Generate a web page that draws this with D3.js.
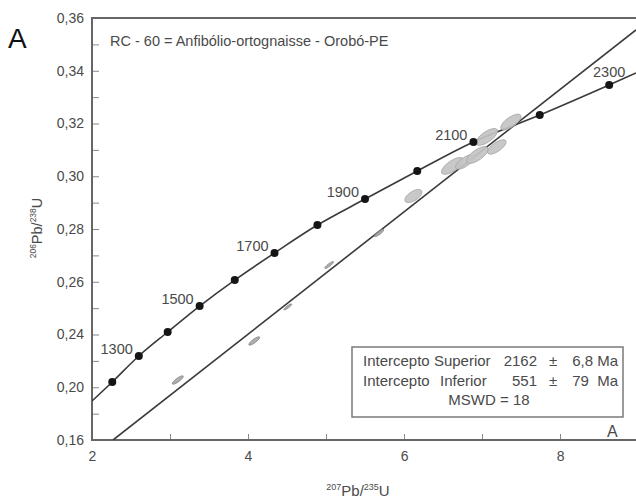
<!DOCTYPE html>
<html><head><meta charset="utf-8">
<script src="https://cdn.jsdelivr.net/npm/d3@7"></script>
<style>
html,body{margin:0;padding:0;background:#fff;}
svg{display:block;font-family:"Liberation Sans",Arial,Helvetica,sans-serif;}
</style></head><body>
<svg id="chart" width="636" height="501"></svg>
<script>
// ---- data ----
const concordiaAges = [1200,1300,1400,1500,1600,1700,1800,1900,2000,2100,2200,2300];
const concordiaX = [2.26,2.60,2.97,3.38,3.83,4.34,4.89,5.50,6.17,6.89,7.74,8.63];
const concordiaY = [0.2040,0.2237,0.2419,0.2616,0.2813,0.3018,0.3230,0.3427,0.3640,0.3860,0.4064,0.4292];
const labelledAges = [1300,1500,1700,1900,2100,2300];
// where the concordia curve leaves the frame
const concordiaEndsX = [2.00, 8.974];
const concordiaEndsY = [0.1896, 0.4383];
// discordia line
const discordiaX = [2.27, 8.974];
const discordiaY = [0.16, 0.4709];
// analyses (error ellipses)
const spotX   = [3.10, 4.08, 4.51, 5.04, 5.68, 6.12, 6.62, 6.78, 6.94, 7.19, 7.06, 7.37];
const spotY   = [0.2055,0.2351,0.2609,0.2927,0.3170,0.3450,0.3678,0.3708,0.3761,0.3822,0.3898,0.4011];
const spotSx  = [0.07, 0.07, 0.05, 0.055,0.06, 0.11, 0.14, 0.12, 0.14, 0.12, 0.14, 0.13];
const spotSy  = [0.0032,0.0032,0.0023,0.0026,0.0028,0.0050,0.0064,0.0055,0.0064,0.0055,0.0064,0.0060];
const spotRho = [0.85, 0.85, 0.9, 0.9, 0.85, 0.6, 0.7, 0.7, 0.7, 0.7, 0.7, 0.7];
// axes
const xTickValues = [2,4,6,8];
const xMinorTicks = [3,4,5,6,7,8];
const yTickValues = [0.16,0.20,0.24,0.28,0.32,0.36,0.40,0.44,0.48];
const yTickLabels = ["0,16","0,20","0,24","0,26","0,28","0,30","0,32","0,34","0,36"];
const yMinorTicks = [0.18,0.20,0.22,0.24,0.26,0.28,0.30,0.32,0.34,0.36,0.38,0.40,0.42,0.44,0.46];
// texts
const panelLetter = "A";
const sampleTitle = "RC - 60 = Anfibólio-ortognaisse - Orobó-PE";
const interceptNames = ["Intercepto Superior", "Intercepto"];
const interceptSecondWord = ["", "Inferior"];
const interceptAges = ["2162", "551"];
const interceptErrors = ["6,8 Ma", "79  Ma"];
const mswdText = "MSWD = 18";

// ---- drawing ----
const svg = d3.select("#chart");
const x = d3.scaleLinear().domain([2, 8.974]).range([92, 636]);
const y = d3.scaleLinear().domain([0.16, 0.48]).range([440, 18]);
const axisCol = "#666", textCol = "#4a4a4a";

svg.append("defs").append("clipPath").attr("id","plot")
  .append("rect").attr("x",x(2)).attr("y",y(0.48)).attr("width",x(8.974)-x(2)).attr("height",y(0.16)-y(0.48));

// y axis labels
const gy = svg.append("g").attr("transform",`translate(${x(2)},0)`)
  .call(d3.axisLeft(y).tickValues(yTickValues).tickFormat((d,i)=>yTickLabels[i]).tickSize(0).tickPadding(8));
gy.select(".domain").remove();
gy.selectAll("text").attr("font-size",14).attr("fill",textCol).attr("font-family","Liberation Sans, Arial, sans-serif");
// y minor ticks (inward)
const gym = svg.append("g").attr("transform",`translate(${x(2)},0)`)
  .call(d3.axisLeft(y).tickValues(yMinorTicks).tickSize(-7).tickFormat(""));
gym.select(".domain").remove();
gym.selectAll("line").attr("stroke","#888").attr("stroke-width",1);

// x axis labels
const gx = svg.append("g").attr("transform",`translate(0,${y(0.16)})`)
  .call(d3.axisBottom(x).tickValues(xTickValues).tickFormat(d=>d).tickSize(0).tickPadding(11));
gx.select(".domain").remove();
gx.selectAll("text").attr("font-size",14).attr("fill",textCol).attr("font-family","Liberation Sans, Arial, sans-serif");
const gxm = svg.append("g").attr("transform",`translate(0,${y(0.16)})`)
  .call(d3.axisBottom(x).tickValues(xMinorTicks).tickSize(-6).tickFormat(""));
gxm.select(".domain").remove();
gxm.selectAll("line").attr("stroke","#888").attr("stroke-width",1);

// frame
svg.append("path")
  .attr("d",`M${x(8.974)},${y(0.48)}H${x(2)}V${y(0.16)}H${x(8.974)}`)
  .attr("fill","none").attr("stroke",axisCol).attr("stroke-width",2);

const plot = svg.append("g").attr("clip-path","url(#plot)");

// concordia curve
const curvePts = [[concordiaEndsX[0],concordiaEndsY[0]]]
  .concat(concordiaX.map((v,i)=>[v,concordiaY[i]]))
  .concat([[concordiaEndsX[1],concordiaEndsY[1]]]);
plot.append("path")
  .attr("d", d3.line().x(d=>x(d[0])).y(d=>y(d[1])).curve(d3.curveCatmullRom)(curvePts))
  .attr("fill","none").attr("stroke","#3a3a3a").attr("stroke-width",1.6);

// discordia
plot.append("path")
  .attr("d", d3.line().x(d=>x(d[0])).y(d=>y(d[1]))(discordiaX.map((v,i)=>[v,discordiaY[i]])))
  .attr("fill","none").attr("stroke","#3a3a3a").attr("stroke-width",1.6);

// error ellipses
const spots = spotX.map((v,i)=>{
  const Sx = Math.abs(x(v+spotSx[i])-x(v));
  const Sy = Math.abs(y(spotY[i]+spotSy[i])-y(spotY[i]));
  const a = Sx*Sx, b = Sy*Sy, c = -spotRho[i]*Sx*Sy;
  const m = (a+b)/2, r = Math.sqrt(((a-b)/2)**2 + c*c);
  return {cx:x(v), cy:y(spotY[i]), rx:Math.sqrt(m+r), ry:Math.sqrt(Math.max(m-r,0.3)),
          ang:0.5*Math.atan2(2*c, a-b)*180/Math.PI, small: spotSx[i] < 0.08};
});
plot.selectAll("ellipse.spot").data(spots).join("ellipse").attr("class","spot")
  .attr("rx",d=>d.rx).attr("ry",d=>d.ry)
  .attr("transform",d=>`translate(${d.cx},${d.cy}) rotate(${d.ang})`)
  .attr("fill",d=>d.small?"#9a9a9a":"#c3c3c3")
  .attr("fill-opacity",d=>d.small?0.8:0.92)
  .attr("stroke",d=>d.small?"#8a8a8a":"#a8a8a8").attr("stroke-width",0.8);

// concordia age dots
plot.selectAll("circle.age").data(concordiaAges).join("circle").attr("class","age")
  .attr("cx",(d,i)=>x(concordiaX[i])).attr("cy",(d,i)=>y(concordiaY[i]))
  .attr("r",4).attr("fill","#151515");

// age labels
svg.selectAll("text.age").data(labelledAges).join("text").attr("class","age")
  .each(function(d){
    const i = concordiaAges.indexOf(d);
    const last = i === concordiaAges.length-1;
    d3.select(this)
      .attr("x", x(concordiaX[i]) + (last ? 0 : -6))
      .attr("y", y(concordiaY[i]) + (last ? -8 : -2))
      .attr("text-anchor", last ? "middle" : "end");
  })
  .attr("font-size",14.5).attr("fill",textCol).text(d=>d);

// panel letter and title
svg.append("text").attr("x",8).attr("y",48).attr("font-size",28).attr("fill","#111").text(panelLetter);
svg.append("text").attr("x",110).attr("y",46).attr("font-size",14.5).attr("fill",textCol).text(sampleTitle);
svg.append("text").attr("x",607).attr("y",437).attr("font-size",16).attr("fill",textCol).text(panelLetter);

// axis titles
const xt = svg.append("text").attr("x",358).attr("y",496).attr("text-anchor","middle")
  .attr("fill",textCol).attr("font-size",15);
xt.append("tspan").attr("font-size",9).attr("dy",-6).text("207");
xt.append("tspan").attr("dy",6).text("Pb/");
xt.append("tspan").attr("font-size",9).attr("dy",-6).text("235");
xt.append("tspan").attr("dy",6).text("U");

const yt = svg.append("text").attr("transform","translate(42,228) rotate(-90)").attr("text-anchor","middle")
  .attr("fill",textCol).attr("font-size",14.5);
yt.append("tspan").attr("font-size",8.5).attr("dy",-6).text("206");
yt.append("tspan").attr("dy",6).text("Pb/");
yt.append("tspan").attr("font-size",8.5).attr("dy",-6).text("238");
yt.append("tspan").attr("dy",6).text("U");

// intercept box
const box = svg.append("g");
box.append("rect").attr("x",352).attr("y",347).attr("width",271).attr("height",70)
  .attr("fill","#fff").attr("stroke","#7a7a7a").attr("stroke-width",1.5);
interceptNames.forEach((n,i)=>{
  const by = 366 + i*19.5;
  box.append("text").attr("x",363).attr("y",by).attr("font-size",15).attr("fill",textCol).text(n);
  if (interceptSecondWord[i]) box.append("text").attr("x",440).attr("y",by).attr("font-size",15).attr("fill",textCol).text(interceptSecondWord[i]);
  box.append("text").attr("x",537).attr("y",by).attr("text-anchor","end").attr("font-size",15).attr("fill",textCol).text(interceptAges[i]);
  box.append("text").attr("x",553).attr("y",by).attr("text-anchor","middle").attr("font-size",15).attr("fill",textCol).text("±");
  box.append("text").attr("x",618).attr("y",by).attr("text-anchor","end").attr("font-size",15).attr("fill",textCol)
    .attr("xml:space","preserve").style("white-space","pre").text(interceptErrors[i]);
});
box.append("text").attr("x",489).attr("y",405).attr("text-anchor","middle").attr("font-size",15).attr("fill",textCol).text(mswdText);
</script>
</body></html>
